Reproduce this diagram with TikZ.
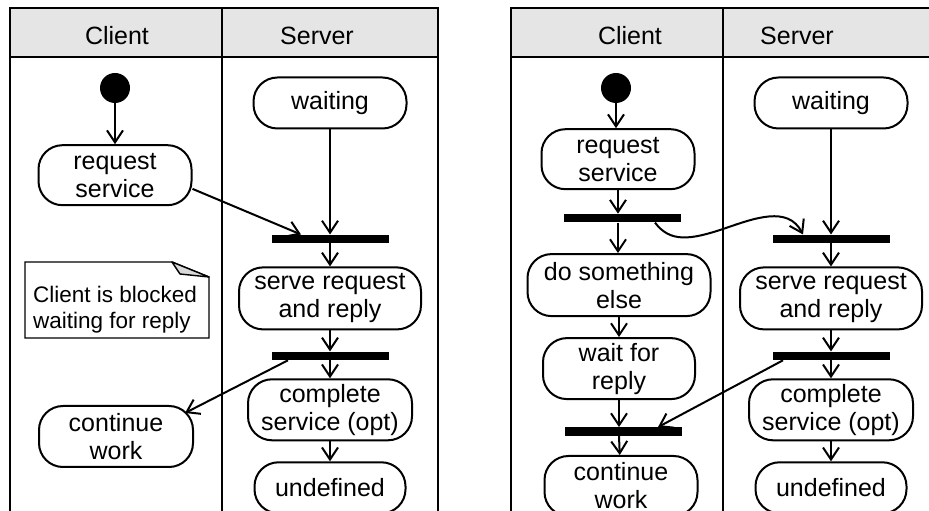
\documentclass[tikz,border=0pt]{standalone}
\usepackage{fontspec}
\setmainfont{Liberation Sans}
\usetikzlibrary{arrows.meta,positioning}
\tikzset{
  act/.style={rectangle, rounded corners=24pt, draw, line width=2pt,
              align=center, font=\fontsize{25}{28}\selectfont, inner sep=1pt,
              minimum width=153pt, minimum height=60pt},
  syncbar/.style={rectangle, fill=black, minimum width=117pt,
                  minimum height=8.5pt, inner sep=0pt},
  startdot/.style={circle, fill=black, minimum size=30pt, inner sep=0pt},
  lanelbl/.style={font=\fontsize{25}{28}\selectfont, anchor=base},
  notelbl/.style={font=\fontsize{22.5}{26}\selectfont, align=left,
                  anchor=north west, inner sep=0pt},
  lane/.style={line width=2.6pt},
  arrow/.style={-{Straight Barb[length=12pt,width=16pt]}, line width=2pt}
}
\begin{document}
\begin{tikzpicture}[x=1pt, y=1pt, node distance=20pt]
  \useasboundingbox (0,0) rectangle (929,511);
  \foreach \dx in {0,501} {
    \fill[black!10] (10+\dx,454) rectangle (438+\dx,503);
    \draw[lane] (10+\dx,-5) -- (10+\dx,503) -- (438+\dx,503) -- (438+\dx,-5);
    \draw[lane] (10+\dx,454) -- (438+\dx,454);
    \draw[lane] (222+\dx,-5) -- (222+\dx,503);
  }
  \node[lanelbl] (client1) at (117,466) {Client};
  \node[lanelbl] (server1) at (317,466) {Server};
  \node[lanelbl] (client2) at (630,466) {Client};
  \node[lanelbl] (server2) at (797,466) {Server};

  % synchronous call
  \node[startdot] (init1) at (115,423) {};
  \node[act, below=41pt of init1] (req1) {request\\service};
  \node[act, minimum height=51pt] (wait1) at (330,408) {waiting};
  \node[syncbar, below=105pt of wait1] (join1) {};
  \node[act, below=23pt of join1, minimum width=182pt, minimum height=62pt] (serve1) {serve request\\and reply};
  \node[syncbar, below=21pt of serve1] (fork1) {};
  \node[act, below=18pt of fork1, minimum width=164pt, minimum height=61pt] (done1) {complete\\service (opt)};
  \node[act, below=of done1, minimum width=151pt, minimum height=51pt] (undef1) {undefined};
  \node[act, minimum width=154pt, minimum height=61pt] (cont1) at (116,74.5) {continue\\work};
  \draw[line width=1.4pt] (25,173) -- (25,249) -- (172,249) -- (209,234) -- (209,173) -- cycle;
  \filldraw[fill=black!15, line width=1.4pt, line join=round] (172,249) -- (209,234) -- (180,237) -- cycle;
  \node[notelbl] (note) at (33,225) {Client is blocked\\waiting for reply};

  \draw[arrow] (init1) -- (req1); \draw[arrow] (wait1) -- (join1);
  \draw[arrow] (req1.-10) -- ([xshift=-29pt]join1.north);
  \draw[arrow] (join1) -- (serve1); \draw[arrow] (serve1) -- (fork1);
  \draw[arrow] (fork1) -- (done1); \draw[arrow] (done1) -- (undef1);
  \draw[arrow] ([xshift=-42pt]fork1.south) -- ([shift={(69pt,23.5pt)}]cont1.center);

  % asynchronous call
  \node[startdot] (init2) at (616,423) {};
  \node[act, below=25pt of init2, xshift=2pt] (req2) {request\\service};
  \node[syncbar, below=23.5pt of req2, xshift=4pt] (fork2) {};
  \node[act, below=30.5pt of fork2, xshift=-3pt, minimum width=183pt, minimum height=62pt] (other2) {do something\\else};
  \node[act, below=of other2, minimum width=152pt, minimum height=61pt] (reply2) {wait for\\reply};
  \node[syncbar, below=27pt of reply2, xshift=4pt] (join3) {};
  \node[act, below=19pt of join3, xshift=-2pt] (cont2) {continue\\work};
  \node[act, minimum height=51pt] (wait2) at (831,408) {waiting};
  \node[syncbar, below=105pt of wait2] (join2) {};
  \node[act, below=23pt of join2, minimum width=182pt, minimum height=62pt] (serve2) {serve request\\and reply};
  \node[syncbar, below=21pt of serve2] (fork3) {};
  \node[act, below=18pt of fork3, minimum width=164pt, minimum height=61pt] (done2) {complete\\service (opt)};
  \node[act, below=of done2, minimum width=151pt, minimum height=51pt] (undef2) {undefined};

  \draw[arrow] (init2) -- (init2 |- req2.north); \draw[arrow] (req2) -- (req2 |- fork2.north);
  \draw[arrow] (req2 |- fork2.south) -- (req2 |- other2.north); \draw[arrow] (other2) -- (other2 |- reply2.north);
  \draw[arrow] (reply2) -- (reply2 |- join3.north); \draw[arrow] (reply2 |- join3.south) -- (cont2);
  \draw[arrow] ([xshift=33pt]fork2.south) .. controls +(15,-20) and +(-33,-11) .. (723,282)
    .. controls +(32,11) and +(-15,29) .. ([xshift=-28pt]join2.north);
  \draw[arrow] (wait2) -- (join2); \draw[arrow] (join2) -- (serve2);
  \draw[arrow] (serve2) -- (fork3); \draw[arrow] (fork3) -- (done2);
  \draw[arrow] (done2) -- (undef2);
  \draw[arrow] ([xshift=-48pt]fork3.south) -- ([xshift=35pt]join3.north);
\end{tikzpicture}
\end{document}
